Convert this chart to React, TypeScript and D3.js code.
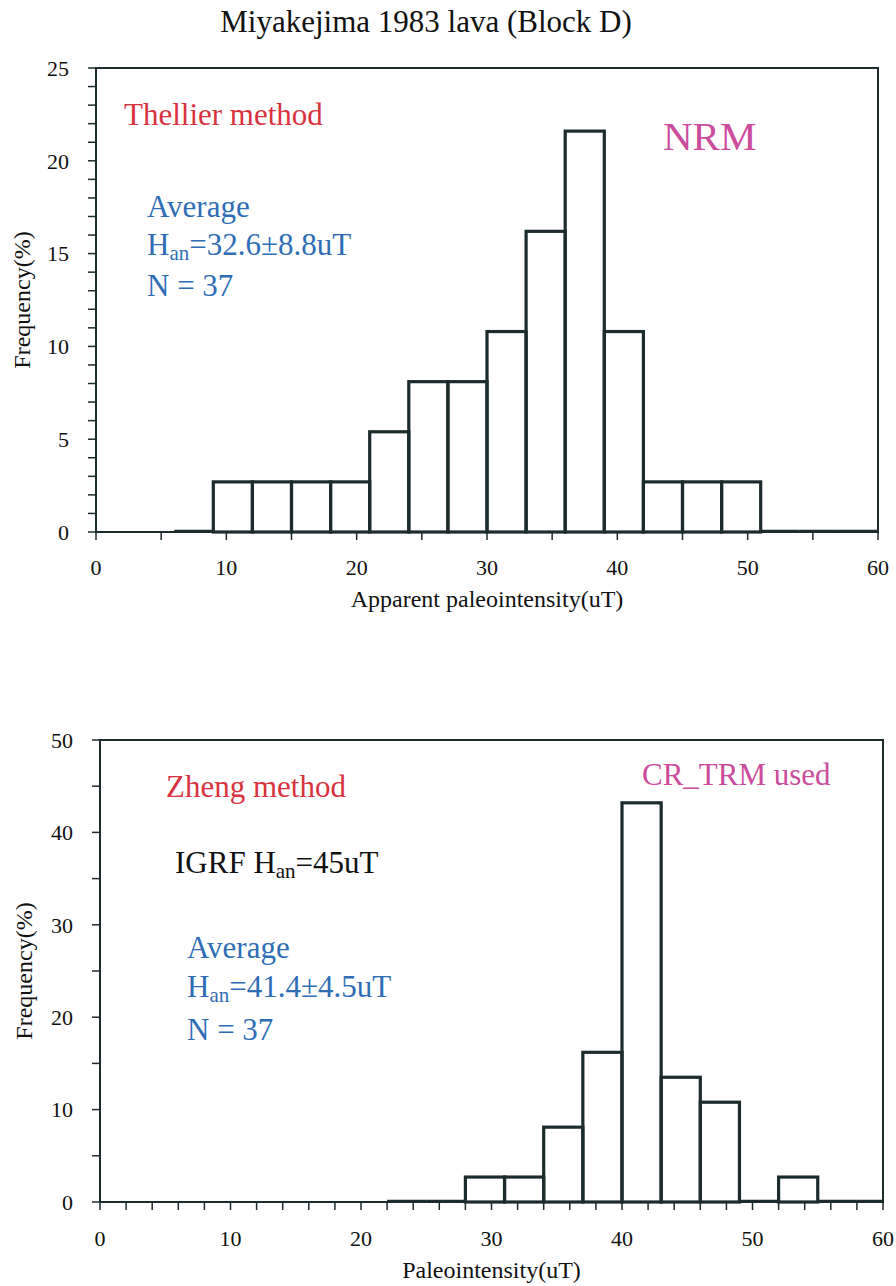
import React from "react";
import * as d3 from "d3";

const TITLE = "Miyakejima 1983 lava (Block D)";

// Top panel (Thellier, NRM)
const topBinStart = [6, 9, 12, 15, 18, 21, 24, 27, 30, 33, 36, 39, 42, 45, 48, 51, 54, 57];
const topFreq = [0, 2.7, 2.7, 2.7, 2.7, 5.4, 8.1, 8.1, 10.8, 16.2, 21.6, 10.8, 2.7, 2.7, 2.7, 0, 0, 0];
const topYTicks = [0, 5, 10, 15, 20, 25];
const topXTicks = [0, 10, 20, 30, 40, 50, 60];

// Bottom panel (Zheng, CR_TRM)
const botBinStart = [22, 25, 28, 31, 34, 37, 40, 43, 46, 49, 52, 55, 58];
const botFreq = [0, 0, 2.7, 2.7, 8.1, 16.2, 43.2, 13.5, 10.8, 0, 2.7, 0, 0];
const botYTicks = [0, 10, 20, 30, 40, 50];
const botXTicks = [0, 10, 20, 30, 40, 50, 60];

const BIN_W = 3;
const INK = "#1c2b2b";
const RED = "#d8333f";
const BLUE = "#2f6db5";
const MAG = "#cb4c9d";
const FONT = "'Liberation Serif', 'Times New Roman', serif";
const FS = 31;
const SUB = 21;

type PanelProps = {
  left: number; right: number; top: number; bottom: number;
  yMax: number; yTicks: number[]; yMinorStep: number;
  xTicks: number[]; xMinorStep: number;
  bins: number[]; freq: number[];
  xLabel: string; xLabelY: number; yLabelX: number; xTickDy: number;
};

function Panel(p: PanelProps) {
  const x = d3.scaleLinear().domain([0, 60]).range([p.left, p.right]);
  const y = d3.scaleLinear().domain([0, p.yMax]).range([p.bottom, p.top]);
  const yMinor = d3.range(0, p.yMax + 0.001, p.yMinorStep);
  const xMinor = d3.range(0, 60.001, p.xMinorStep);
  const tk = 8;
  return (
    <g>
      <rect x={p.left} y={p.top} width={p.right - p.left} height={p.bottom - p.top}
        fill="none" stroke={INK} strokeWidth={2} />
      {yMinor.map((v) => (
        <line key={"ym" + v} x1={p.left - tk} x2={p.left} y1={y(v)} y2={y(v)} stroke={INK} strokeWidth={1.5} />
      ))}
      {p.yTicks.map((v) => (
        <text key={"yl" + v} x={p.left - 27} y={y(v)} dy="0.35em" textAnchor="end"
          fontSize={22} fontFamily={FONT} fill="#111">{v}</text>
      ))}
      {xMinor.map((v) => (
        <line key={"xm" + v} x1={x(v)} x2={x(v)} y1={p.bottom} y2={p.bottom + tk} stroke={INK} strokeWidth={1.5} />
      ))}
      {p.xTicks.map((v) => (
        <text key={"xl" + v} x={x(v)} y={p.bottom + p.xTickDy} textAnchor="middle"
          fontSize={22} fontFamily={FONT} fill="#111">{v}</text>
      ))}
      {p.bins.map((b, i) => {
        const x0 = x(b);
        const x1 = x(Math.min(b + BIN_W, 60));
        const f = p.freq[i];
        if (f === 0) {
          return <line key={"b" + i} x1={x0} x2={x1} y1={y(0) - 1} y2={y(0) - 1} stroke={INK} strokeWidth={2.5} />;
        }
        return (
          <rect key={"b" + i} x={x0} y={y(f)} width={x1 - x0} height={y(0) - y(f)}
            fill="none" stroke={INK} strokeWidth={3.2} />
        );
      })}
      <text x={(p.left + p.right) / 2} y={p.xLabelY} textAnchor="middle" fontSize={24}
        fontFamily={FONT} fill="#111">{p.xLabel}</text>
      <text transform={`translate(${p.yLabelX},${(p.top + p.bottom) / 2}) rotate(-90)`}
        textAnchor="middle" fontSize={24} fontFamily={FONT} fill="#111">Frequency(%)</text>
    </g>
  );
}

export default function App() {
  return (
    <svg width={896} height={1286}
      style={{ display: "block", position: "absolute", left: 0, top: 0, background: "#fff" }}>
      <text x={426} y={32} textAnchor="middle" fontSize={31} fontFamily={FONT} fill="#111">{TITLE}</text>

      <Panel left={96} right={878} top={68} bottom={532} yMax={25} yTicks={topYTicks} yMinorStep={1}
        xTicks={topXTicks} xMinorStep={5} bins={topBinStart} freq={topFreq}
        xLabel="Apparent paleointensity(uT)" xLabelY={607} yLabelX={30} xTickDy={43} />
      <text x={124} y={125} fontSize={FS} fontFamily={FONT} fill={RED}>Thellier method</text>
      <text x={663} y={150} fontSize={41} fontFamily={FONT} fill={MAG}>NRM</text>
      <text x={147} y={217} fontSize={FS} fontFamily={FONT} fill={BLUE}>Average</text>
      <text x={147} y={255} fontSize={FS} fontFamily={FONT} fill={BLUE}>
        H<tspan fontSize={SUB} dy={5}>an</tspan><tspan dy={-5}>=32.6±8.8uT</tspan>
      </text>
      <text x={147} y={296} fontSize={FS} fontFamily={FONT} fill={BLUE}>N = 37</text>

      <Panel left={100} right={883} top={740} bottom={1202} yMax={50} yTicks={botYTicks} yMinorStep={5}
        xTicks={botXTicks} xMinorStep={2} bins={botBinStart} freq={botFreq}
        xLabel="Paleointensity(uT)" xLabelY={1278} yLabelX={32} xTickDy={44} />
      <text x={166} y={797} fontSize={FS} fontFamily={FONT} fill={RED}>Zheng method</text>
      <text x={642} y={785} fontSize={FS} fontFamily={FONT} fill={MAG}>CR_TRM used</text>
      <text x={175} y={873} fontSize={FS} fontFamily={FONT} fill="#111">
        IGRF H<tspan fontSize={SUB} dy={5}>an</tspan><tspan dy={-5}>=45uT</tspan>
      </text>
      <text x={187} y={958} fontSize={FS} fontFamily={FONT} fill={BLUE}>Average</text>
      <text x={187} y={997} fontSize={FS} fontFamily={FONT} fill={BLUE}>
        H<tspan fontSize={SUB} dy={5}>an</tspan><tspan dy={-5}>=41.4±4.5uT</tspan>
      </text>
      <text x={187} y={1040} fontSize={FS} fontFamily={FONT} fill={BLUE}>N = 37</text>
    </svg>
  );
}
